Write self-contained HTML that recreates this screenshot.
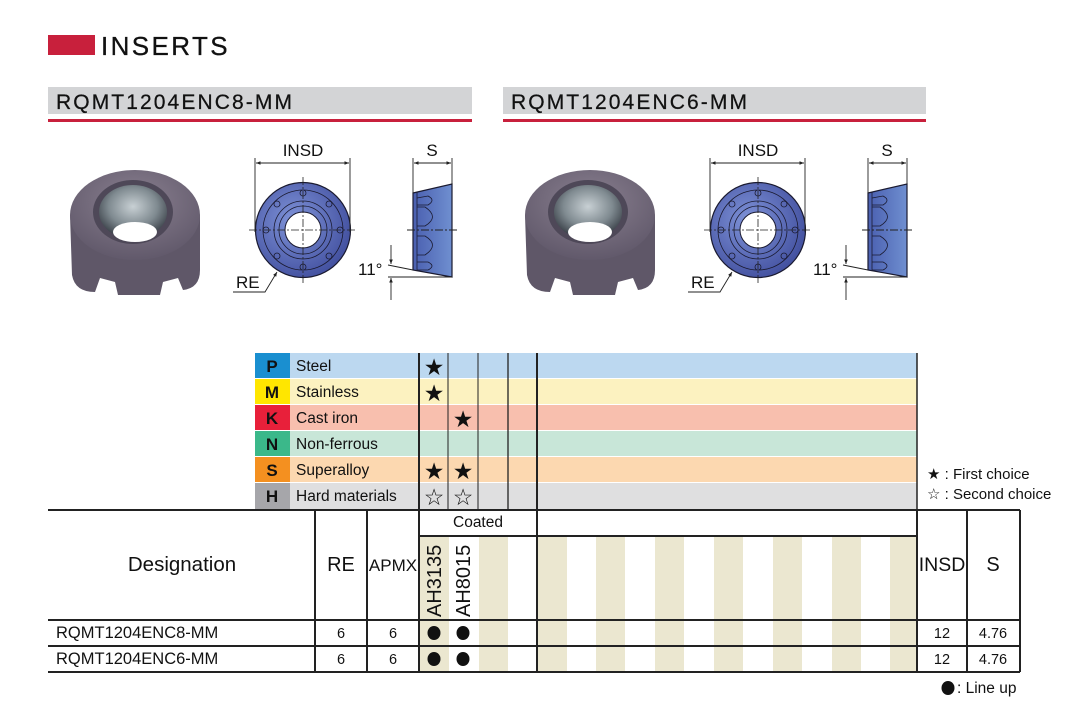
<!DOCTYPE html>
<html><head><meta charset="utf-8"><style>
html,body{margin:0;padding:0;background:#fff;}
svg{display:block;font-family:"Liberation Sans",Arial,sans-serif;}
</style></head><body>
<svg width="1070" height="704" viewBox="0 0 1070 704" xmlns="http://www.w3.org/2000/svg">
<defs>
<radialGradient id="gface" cx="0.4" cy="0.4" r="0.7"><stop offset="0" stop-color="#7f93d8"/><stop offset="1" stop-color="#3d4a9a"/></radialGradient>
<linearGradient id="gside" x1="0" x2="1"><stop offset="0" stop-color="#4a5fb0"/><stop offset="1" stop-color="#6f8fd0"/></linearGradient>
<radialGradient id="gphoto" cx="0.5" cy="0.35" r="0.7"><stop offset="0" stop-color="#8a8090"/><stop offset="1" stop-color="#5e5668"/></radialGradient>
<radialGradient id="ghole" cx="0.5" cy="0.4" r="0.6"><stop offset="0" stop-color="#c8d0d4"/><stop offset="0.6" stop-color="#7f8a90"/><stop offset="1" stop-color="#3a4048"/></radialGradient>
<marker id="ar" viewBox="0 0 10 10" refX="10" refY="5" markerWidth="7" markerHeight="5" orient="auto-start-reverse"><path d="M0,1 L10,5 L0,9 z" fill="#222"/></marker>
<g id="set">
  <path d="M70,215 L72,275 Q75,292 95,292 L100,278 L115,282 L118,295 L160,295 L163,282 L178,278 L183,290 Q200,288 200,270 L200,215 Z" fill="#5f5768"/>
  <ellipse cx="135" cy="215" rx="65" ry="45" fill="url(#gphoto)"/>
  <ellipse cx="133" cy="212" rx="40" ry="32" fill="#4e4858"/>
  <ellipse cx="133" cy="212" rx="34" ry="27" fill="url(#ghole)"/>
  <ellipse cx="135" cy="232" rx="22" ry="10" fill="#fff"/>
  <circle cx="303" cy="230" r="47.5" fill="url(#gface)" stroke="#1a1a30" stroke-width="1.2"/>
  <circle cx="303" cy="230" r="40" fill="none" stroke="#1a1a30" stroke-width="0.8"/>
  <circle cx="303" cy="230" r="29" fill="none" stroke="#1a1a30" stroke-width="0.8"/>
  <circle cx="303" cy="230" r="24" fill="none" stroke="#1a1a30" stroke-width="0.8"/>
  <circle cx="303" cy="230" r="18" fill="#fff" stroke="#1a1a30" stroke-width="1"/>
  <g fill="none" stroke="#1a1a30" stroke-width="0.8">
    <circle cx="303" cy="193" r="3"/><circle cx="303" cy="267" r="3"/>
    <circle cx="266" cy="230" r="3"/><circle cx="340" cy="230" r="3"/>
    <circle cx="277" cy="204" r="3"/><circle cx="329" cy="204" r="3"/>
    <circle cx="277" cy="256" r="3"/><circle cx="329" cy="256" r="3"/>
  </g>
  <g stroke="#222" stroke-width="0.8" stroke-dasharray="8,2,2,2">
    <line x1="249" y1="230" x2="357" y2="230"/><line x1="303" y1="177" x2="303" y2="283"/>
  </g>
  <g stroke="#222" stroke-width="0.9" fill="none">
    <line x1="255" y1="158" x2="255" y2="232"/><line x1="350" y1="158" x2="350" y2="232"/>
    <line x1="256" y1="163" x2="349" y2="163" marker-start="url(#ar)" marker-end="url(#ar)"/>
    <polyline points="233,292 265,292 277,272" marker-end="url(#ar)"/>
  </g>
  <polygon points="413,193 452,184 452,277 413,270" fill="url(#gside)" stroke="#1a1a30" stroke-width="1.2"/>
  <g fill="none" stroke="#1a1a30" stroke-width="0.8">
    <line x1="417" y1="192" x2="417" y2="271"/>
    <path d="M417,198 L428,196 Q436,200 428,205 L417,205"/>
    <path d="M417,207 L425,207 Q440,217 425,226 L417,226"/>
    <path d="M417,236 L425,236 Q440,245 425,255 L417,255"/>
    <path d="M417,262 L428,262 Q436,266 428,270 L417,270"/>
  </g>
  <g stroke="#222" stroke-width="0.9" fill="none">
    <line x1="407" y1="230" x2="458" y2="230" stroke-dasharray="8,2,2,2"/>
    <line x1="413" y1="158" x2="413" y2="193"/><line x1="452" y1="158" x2="452" y2="184"/>
    <line x1="414" y1="163" x2="451" y2="163" marker-start="url(#ar)" marker-end="url(#ar)"/>
    <line x1="388" y1="277" x2="452" y2="277"/>
    <line x1="388" y1="265" x2="413" y2="270"/>
    <line x1="391" y1="245" x2="391" y2="264" marker-end="url(#ar)"/>
    <line x1="391" y1="300" x2="391" y2="278" marker-end="url(#ar)"/>
  </g>
</g>
</defs>

<rect x="48" y="35" width="47" height="20" fill="#c8203c"/>
<text x="101" y="55" font-size="26" letter-spacing="2.4" fill="#111" stroke="#111" stroke-width="0.3">INSERTS</text>
<rect x="48" y="87" width="424" height="27" fill="#d3d4d6"/>
<rect x="48" y="119" width="424" height="3" fill="#c8203c"/>
<text x="56" y="109" font-size="21" letter-spacing="2.1" fill="#111" stroke="#111" stroke-width="0.25">RQMT1204ENC8-MM</text>
<rect x="503" y="87" width="423" height="27" fill="#d3d4d6"/>
<rect x="503" y="119" width="423" height="3" fill="#c8203c"/>
<text x="511" y="109" font-size="21" letter-spacing="2.1" fill="#111" stroke="#111" stroke-width="0.25">RQMT1204ENC6-MM</text>

<use href="#set"/>
<use href="#set" transform="translate(455,0)"/>
<g font-size="17" fill="#111">
<text x="303" y="156" text-anchor="middle">INSD</text><text x="432" y="156" text-anchor="middle">S</text>
<text x="236" y="288">RE</text><text x="358" y="275">11°</text>
<text x="758" y="156" text-anchor="middle">INSD</text><text x="887" y="156" text-anchor="middle">S</text>
<text x="691" y="288">RE</text><text x="813" y="275">11°</text>
</g>

<g>
<rect x="255" y="353" width="35" height="25" fill="#1a8fd0"/><rect x="290" y="353" width="627" height="25" fill="#bcd8f0"/>
<rect x="255" y="379" width="35" height="25" fill="#ffe600"/><rect x="290" y="379" width="627" height="25" fill="#fcf2c0"/>
<rect x="255" y="405" width="35" height="25" fill="#e8203a"/><rect x="290" y="405" width="627" height="25" fill="#f8bfae"/>
<rect x="255" y="431" width="35" height="25" fill="#3bb88a"/><rect x="290" y="431" width="627" height="25" fill="#c8e6d8"/>
<rect x="255" y="457" width="35" height="25" fill="#f49020"/><rect x="290" y="457" width="627" height="25" fill="#fcd8b0"/>
<rect x="255" y="483" width="35" height="26" fill="#a6a6aa"/><rect x="290" y="483" width="627" height="26" fill="#dfdfe0"/>
</g>
<g font-size="17" font-weight="bold" fill="#111" text-anchor="middle">
<text x="272" y="372">P</text><text x="272" y="398">M</text><text x="272" y="424">K</text><text x="272" y="450">N</text><text x="272" y="476">S</text><text x="272" y="502">H</text>
</g>
<g font-size="15.5" fill="#111">
<text x="296" y="371">Steel</text><text x="296" y="397">Stainless</text><text x="296" y="423">Cast iron</text><text x="296" y="449">Non-ferrous</text><text x="296" y="475">Superalloy</text><text x="296" y="501">Hard materials</text>
</g>
<g font-size="23" fill="#111" text-anchor="middle">
<text x="434" y="375">★</text><text x="434" y="401">★</text><text x="463" y="427">★</text><text x="434" y="479">★</text><text x="463" y="479">★</text>
<text x="434" y="505">☆</text><text x="463" y="505">☆</text>
</g>
<g stroke="#222">
<line x1="419" y1="353" x2="419" y2="509" stroke-width="2"/>
<line x1="448" y1="353" x2="448" y2="509" stroke-width="1"/>
<line x1="478" y1="353" x2="478" y2="509" stroke-width="1"/>
<line x1="508" y1="353" x2="508" y2="509" stroke-width="1.3"/>
<line x1="537" y1="353" x2="537" y2="509" stroke-width="2"/>
<line x1="917" y1="353" x2="917" y2="509" stroke-width="1.5"/>
</g>
<g font-size="15" fill="#111">
<text x="927" y="479">★ : First choice</text><text x="927" y="499">☆ : Second choice</text>
</g>

<g fill="#ebe7d0">
<rect x="420" y="537" width="29" height="135"/><rect x="479" y="537" width="29" height="135"/>
<rect x="538" y="537" width="29" height="135"/><rect x="596" y="537" width="29" height="135"/>
<rect x="655" y="537" width="29" height="135"/><rect x="714" y="537" width="29" height="135"/>
<rect x="773" y="537" width="29" height="135"/><rect x="832" y="537" width="29" height="135"/>
<rect x="890" y="537" width="27" height="135"/>
</g>
<g stroke="#222" stroke-width="2" fill="none">
<line x1="48" y1="510" x2="1020" y2="510"/>
<line x1="419" y1="536" x2="917" y2="536"/>
<line x1="48" y1="620" x2="1020" y2="620"/>
<line x1="48" y1="646" x2="1020" y2="646"/>
<line x1="48" y1="672" x2="1020" y2="672"/>
<line x1="315" y1="510" x2="315" y2="672"/>
<line x1="367" y1="510" x2="367" y2="672"/>
<line x1="419" y1="510" x2="419" y2="672"/>
<line x1="537" y1="510" x2="537" y2="672"/>
<line x1="917" y1="510" x2="917" y2="672"/>
<line x1="967" y1="510" x2="967" y2="672"/>
<line x1="1020" y1="510" x2="1020" y2="672"/>
</g>
<g fill="#111">
<text x="182" y="571" font-size="20.5" text-anchor="middle">Designation</text>
<text x="341" y="571" font-size="20" text-anchor="middle">RE</text>
<text x="393" y="571" font-size="17" text-anchor="middle">APMX</text>
<text x="478" y="527" font-size="15.5" text-anchor="middle">Coated</text>
<text transform="translate(441,617) rotate(-90)" font-size="20">AH3135</text>
<text transform="translate(470,617) rotate(-90)" font-size="20">AH8015</text>
<text x="942" y="571" font-size="19.5" text-anchor="middle">INSD</text>
<text x="993" y="571" font-size="20" text-anchor="middle">S</text>
<text x="56" y="638" font-size="16.5">RQMT1204ENC8-MM</text>
<text x="56" y="664" font-size="16.5">RQMT1204ENC6-MM</text>
<g font-size="14.5" text-anchor="middle">
<text x="341" y="638">6</text><text x="393" y="638">6</text><text x="942" y="638">12</text><text x="993" y="638">4.76</text>
<text x="341" y="664">6</text><text x="393" y="664">6</text><text x="942" y="664">12</text><text x="993" y="664">4.76</text>
</g>
<ellipse cx="434" cy="633" rx="6.5" ry="7"/><ellipse cx="463" cy="633" rx="6.5" ry="7"/>
<ellipse cx="434" cy="659" rx="6.5" ry="7"/><ellipse cx="463" cy="659" rx="6.5" ry="7"/>
<ellipse cx="948" cy="688" rx="6.5" ry="7"/>
<text x="957" y="693" font-size="15.5">: Line up</text>
</g>
</svg>
</body></html>
